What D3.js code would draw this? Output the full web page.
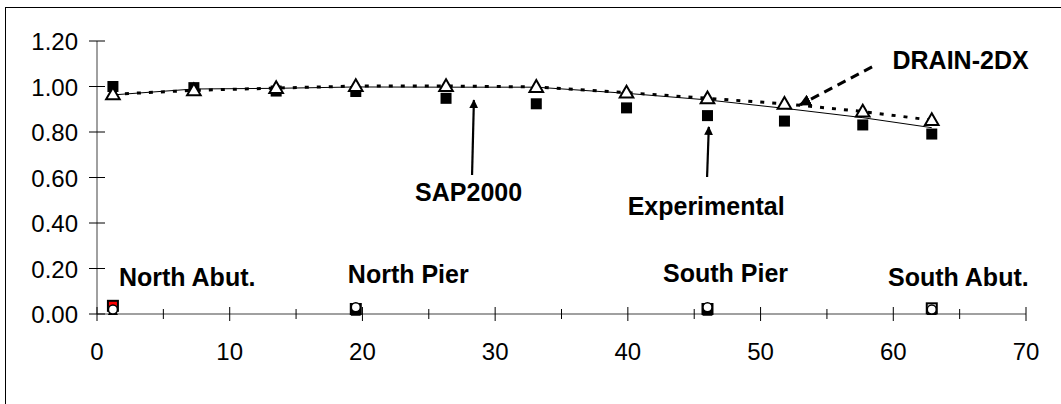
<!DOCTYPE html>
<html>
<head>
<meta charset="utf-8">
<script src="https://cdn.jsdelivr.net/npm/d3@7"></script>
<style>
	body { margin: 0; background: #fff; }
	svg { display: block; font-family: "Liberation Sans", Arial, sans-serif; }
	.tick-label { font-size: 24px; fill: #000; }
	.note { font-size: 25px; font-weight: bold; fill: #000; }
</style>
</head>
<body>
<svg id="chart" width="1061" height="404"></svg>
<script>
// girder positions along the bridge
const stations = [1.2, 7.3, 13.5, 19.5, 26.3, 33.1, 39.9, 46.0, 51.8, 57.7, 62.9];
const experimental = [1.00, 0.995, 0.98, 0.978, 0.948, 0.924, 0.906, 0.872, 0.848, 0.831, 0.791];
const sap2000 = [0.963, 0.989, 0.992, 0.998, 0.997, 0.997, 0.970, 0.941, 0.904, 0.863, 0.819];
const drain2dx = [0.966, 0.983, 0.993, 1.002, 1.002, 0.998, 0.973, 0.948, 0.924, 0.890, 0.852];

// support locations
const supports = ['North Abut.', 'North Pier', 'South Pier', 'South Abut.'];
const supportX = [1.2, 19.5, 46.0, 62.9];
const supportSquare = [0.036, 0.022, 0.022, 0.025];
const supportTriangle = [0.008, 0.005, 0.005, 0.008];
const supportCircle = [0.020, 0.030, 0.030, 0.020];

const xTicks = [0, 10, 20, 30, 40, 50, 60, 70];
const xMinorTicks = [5, 15, 25, 35, 45, 55, 65];
const yTicks = [0, 0.2, 0.4, 0.6, 0.8, 1.0, 1.2];

const svg = d3.select('#chart');
const x = d3.scaleLinear().domain([0, 70]).range([97, 1026]);
const y = d3.scaleLinear().domain([0, 1.2]).range([314, 41]);

// chart frame (right and bottom edges fall outside the picture)
svg.append('rect')
	.attr('x', 5.5).attr('y', 7.5)
	.attr('width', 1070).attr('height', 420)
	.attr('fill', 'none').attr('stroke', '#000');

const defs = svg.append('defs');
defs.append('marker')
	.attr('id', 'head')
	.attr('viewBox', '0 0 10 10')
	.attr('refX', 9).attr('refY', 5)
	.attr('markerWidth', 4).attr('markerHeight', 4)
	.attr('markerUnits', 'strokeWidth')
	.attr('orient', 'auto')
	.append('path').attr('d', 'M0,0 L10,5 L0,10 z').attr('fill', '#000');

// axes
const axes = svg.append('g');
axes.append('line')
	.attr('x1', x(0)).attr('x2', x(70)).attr('y1', y(0)).attr('y2', y(0))
	.attr('stroke', '#808080').attr('stroke-width', 1.5);
axes.append('line')
	.attr('x1', x(0)).attr('x2', x(0)).attr('y1', y(0)).attr('y2', y(1.2))
	.attr('stroke', '#808080').attr('stroke-width', 1.5);

axes.selectAll('.xt').data(xTicks).enter().append('line')
	.attr('x1', d => x(d)).attr('x2', d => x(d))
	.attr('y1', y(0) - 7).attr('y2', y(0) + 7)
	.attr('stroke', '#000');
axes.selectAll('.xm').data(xMinorTicks).enter().append('line')
	.attr('x1', d => x(d)).attr('x2', d => x(d))
	.attr('y1', y(0) - 5).attr('y2', y(0) + 5)
	.attr('stroke', '#000');
axes.selectAll('.yt').data(yTicks).enter().append('line')
	.attr('x1', x(0) - 8).attr('x2', x(0) + 8)
	.attr('y1', d => y(d)).attr('y2', d => y(d))
	.attr('stroke', '#000');

axes.selectAll('.xl').data(xTicks).enter().append('text')
	.classed('tick-label', true)
	.attr('x', d => x(d)).attr('y', y(0) + 46)
	.attr('text-anchor', 'middle')
	.text(d => d);
axes.selectAll('.yl').data(yTicks).enter().append('text')
	.classed('tick-label', true)
	.attr('x', x(0) - 19).attr('y', d => y(d) + 9)
	.attr('text-anchor', 'end')
	.text(d => d.toFixed(2));

// lines
const line = d3.line().x(d => x(d[0])).y(d => y(d[1]));
svg.append('path')
	.datum(stations.map((s, i) => [s, sap2000[i]]))
	.attr('d', line).attr('fill', 'none')
	.attr('stroke', '#000').attr('stroke-width', 1);
svg.append('path')
	.datum(stations.map((s, i) => [s, drain2dx[i]]))
	.attr('d', line).attr('fill', 'none')
	.attr('stroke', '#000').attr('stroke-width', 3)
	.attr('stroke-dasharray', '4,8');

// experimental squares
svg.append('g').selectAll('rect').data(stations).enter().append('rect')
	.attr('x', (d, i) => x(d) - 5.5).attr('y', (d, i) => y(experimental[i]) - 5.5)
	.attr('width', 11).attr('height', 11)
	.attr('fill', '#000');

// DRAIN-2DX triangles
const tri = d3.symbol().type(d3.symbolTriangle).size(80);
svg.append('g').selectAll('path').data(stations).enter().append('path')
	.attr('d', tri)
	.attr('transform', (d, i) => `translate(${x(d)},${y(drain2dx[i]) + 1})`)
	.attr('fill', '#fff').attr('stroke', '#000').attr('stroke-width', 2);

// support markers
const supportFill = ['#ff0000', '#000', '#000', '#fff'];
const sup = svg.append('g');
sup.selectAll('rect').data(supportX).enter().append('rect')
	.attr('x', d => x(d) - 5).attr('y', (d, i) => y(supportSquare[i]) - 5)
	.attr('width', 10).attr('height', 10)
	.attr('fill', (d, i) => supportFill[i])
	.attr('stroke', '#000').attr('stroke-width', 2);
sup.selectAll('.st').data(supportX).enter().append('path')
	.attr('d', d3.symbol().type(d3.symbolTriangle).size(45))
	.attr('transform', (d, i) => `translate(${x(d)},${y(supportTriangle[i])})`)
	.attr('fill', '#000');
sup.selectAll('circle').data(supportX).enter().append('circle')
	.attr('cx', d => x(d)).attr('cy', (d, i) => y(supportCircle[i]))
	.attr('r', 4.5)
	.attr('fill', '#fff').attr('stroke', '#000').attr('stroke-width', 1.5);

// support labels
const supportLabelX = [1.65, 18.9, 42.65, 59.6];
const supportLabelY = [0.123, 0.136, 0.141, 0.123];
svg.append('g').selectAll('text').data(supports).enter().append('text')
	.classed('note', true)
	.attr('x', (d, i) => x(supportLabelX[i]))
	.attr('y', (d, i) => y(supportLabelY[i]))
	.text(d => d);

// series call-outs
const notes = [
	{ text: 'SAP2000', at: [28.0, 0.497], from: [28.26, 0.611], to: [28.4, 0.94], dash: null },
	{ text: 'Experimental', at: [45.9, 0.435], from: [45.97, 0.602], to: [46.1, 0.822], dash: null },
	{ text: 'DRAIN-2DX', at: [65.07, 1.077], from: [58.4, 1.086], to: [52.97, 0.919], dash: '9,6' }
];
const callouts = svg.append('g');
notes.forEach(n => {
	callouts.append('line')
		.attr('x1', x(n.from[0])).attr('y1', y(n.from[1]))
		.attr('x2', x(n.to[0])).attr('y2', y(n.to[1]))
		.attr('stroke', '#000').attr('stroke-width', n.dash ? 3 : 2.2)
		.attr('stroke-dasharray', n.dash)
		.attr('marker-end', 'url(#head)');
	callouts.append('text')
		.classed('note', true)
		.attr('x', x(n.at[0])).attr('y', y(n.at[1]))
		.attr('text-anchor', 'middle')
		.text(n.text);
});
</script>
</body>
</html>
